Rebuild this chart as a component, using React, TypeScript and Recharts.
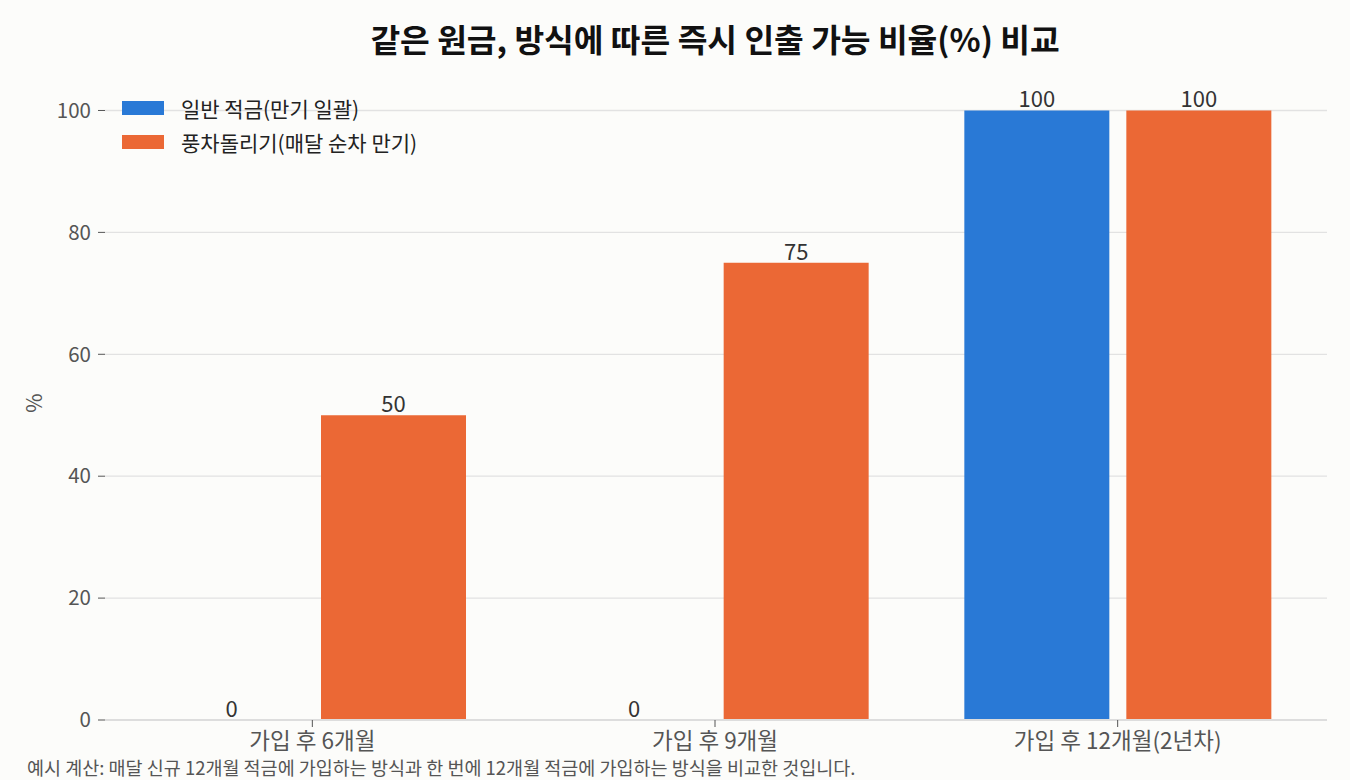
import React from "react";
import { BarChart, Bar, XAxis, YAxis, CartesianGrid, LabelList } from "recharts";

const categories = ["가입 후 6개월", "가입 후 9개월", "가입 후 12개월(2년차)"];
const lumpSum = [0, 0, 100];
const ladder = [50, 75, 100];
const yTicks = [0, 20, 40, 60, 80, 100];
const seriesNames = ["일반 적금(만기 일괄)", "풍차돌리기(매달 순차 만기)"];
const colors = ["#2979D6", "#EB6835"];

const data = categories.map((c, i) => ({ name: c, a: lumpSum[i], b: ladder[i] }));

const FONT = "'Noto Sans CJK KR', 'Noto Sans', sans-serif";

const ValueLabel = (props: any) => {
  const { x, y, width, value } = props;
  if (value === undefined || value === null) return null;
  return (
    <text
      x={Number(x) + Number(width) / 2}
      y={Number(y) - 3}
      textAnchor="middle"
      fontSize={22}
      fill="#333"
      fontFamily={FONT}
    >
      {value}
    </text>
  );
};

const YLabel = (props: any) => {
  const vb = props.viewBox || { x: 0, y: 80, width: 105, height: 640 };
  const cx = 33;
  const cy = vb.y + vb.height / 2 + 3;
  return (
    <text
      x={cx}
      y={cy}
      textAnchor="middle"
      dominantBaseline="central"
      fontSize={21}
      fill="#555"
      fontFamily={FONT}
      transform={`rotate(-90, ${cx}, ${cy})`}
    >
      %
    </text>
  );
};

export default function App() {
  return (
    <div
      style={{
        position: "absolute",
        left: 0,
        top: 0,
        width: 1350,
        height: 780,
        background: "#FCFCFA",
        fontFamily: FONT,
      }}
    >
      <div
        style={{
          position: "absolute",
          top: 17,
          left: 0,
          width: 1430,
          textAlign: "center",
          fontSize: 32.3,
          fontWeight: 700,
          color: "#111",
          lineHeight: "42px",
          whiteSpace: "nowrap",
        }}
      >
        같은 원금, 방식에 따른 즉시 인출 가능 비율(%) 비교
      </div>
      <BarChart
        width={1350}
        height={780}
        data={data}
        margin={{ top: 80, right: 23, bottom: 0, left: 0 }}
        barGap={17}
        barSize={145}
        style={{ position: "absolute", left: 0, top: 0 }}
      >
        <CartesianGrid vertical={false} stroke="#E2E2E2" strokeWidth={1.3} horizontalValues={yTicks} />
        <XAxis
          dataKey="name"
          height={60}
          padding={{ left: 6, right: 8 }}
          axisLine={{ stroke: "#DDDDDD", strokeWidth: 2 }}
          tickLine={{ stroke: "#555" }}
          tickSize={7}
          tickMargin={6}
          tick={{ fontSize: 22.5, fill: "#555", fontFamily: FONT }}
        />
        <YAxis
          width={105}
          domain={[0, 105]}
          ticks={yTicks}
          axisLine={false}
          tickLine={{ stroke: "#555" }}
          tickSize={7}
          tickMargin={7}
          tick={{ fontSize: 20.5, fill: "#555", fontFamily: FONT }}
          label={{ content: <YLabel />, value: "%" }}
        />
        <Bar dataKey="a" name={seriesNames[0]} fill={colors[0]} minPointSize={0.01} isAnimationActive={false}>
          <LabelList dataKey="a" content={<ValueLabel />} />
        </Bar>
        <Bar dataKey="b" name={seriesNames[1]} fill={colors[1]} minPointSize={0.01} isAnimationActive={false}>
          <LabelList dataKey="b" content={<ValueLabel />} />
        </Bar>
      </BarChart>
      <div
        style={{
          position: "absolute",
          left: 122,
          top: 91,
          fontSize: 21,
          color: "#222",
        }}
      >
        {seriesNames.map((n, i) => (
          <div key={n} style={{ display: "flex", alignItems: "center", height: 34 }}>
            <div style={{ width: 42, height: 14, background: colors[i], marginRight: 17 }} />
            <span style={{ lineHeight: "34px" }}>{n}</span>
          </div>
        ))}
      </div>
      <div
        style={{
          position: "absolute",
          left: 27,
          top: 758,
          fontSize: 18.5,
          color: "#555",
          lineHeight: "19px",
          whiteSpace: "nowrap",
        }}
      >
        예시 계산: 매달 신규 12개월 적금에 가입하는 방식과 한 번에 12개월 적금에 가입하는 방식을 비교한 것입니다.
      </div>
    </div>
  );
}
